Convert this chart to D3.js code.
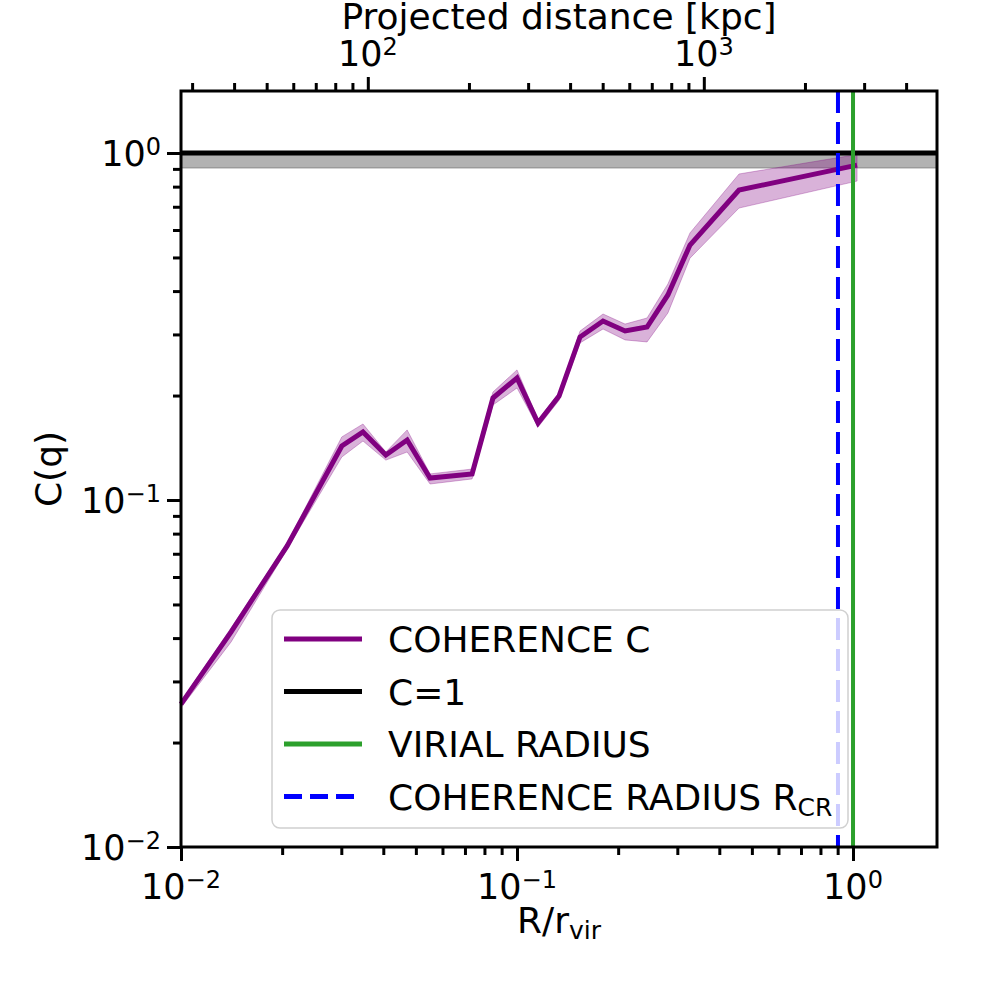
<!DOCTYPE html>
<html>
<head>
<meta charset="utf-8">
<script src="https://cdn.jsdelivr.net/npm/d3@7/dist/d3.min.js"></script>
<style>
  body { margin: 0; background: #fff; }
  text { font-family: "DejaVu Sans", sans-serif; fill: #000; }
</style>
</head>
<body>
<svg width="1008" height="1008"></svg>
<script>
// R / r_vir of each measured bin
const rRatio = [0.0100, 0.0141, 0.0207, 0.0301, 0.0348, 0.0407, 0.0471, 0.0551, 0.0735, 0.0848,
  0.1000, 0.1155, 0.1334, 0.1540, 0.1803, 0.2097, 0.2438, 0.2812, 0.3272, 0.4578, 1.028];
// coherence C(q) and its band
const coherence = [0.0258, 0.0417, 0.0737, 0.1431, 0.1570, 0.1348, 0.1489, 0.1157, 0.1189, 0.1968,
  0.2247, 0.1667, 0.1994, 0.2949, 0.3280, 0.3069, 0.3151, 0.3898, 0.5430, 0.7820, 0.9230];
const cUpper = [0.0263, 0.0428, 0.0752, 0.1520, 0.1656, 0.1375, 0.1592, 0.1189, 0.1228, 0.2047,
  0.2371, 0.1705, 0.2035, 0.3068, 0.3436, 0.3214, 0.3346, 0.4193, 0.5884, 0.8700, 0.9900];
const cLower = [0.0252, 0.0390, 0.0722, 0.1330, 0.1479, 0.1303, 0.1375, 0.1112, 0.1150, 0.1878,
  0.2103, 0.1622, 0.1937, 0.2836, 0.3110, 0.2893, 0.2854, 0.3458, 0.4978, 0.6940, 0.8300];

const cOne = 1;            // C = 1 reference
const cOneBandLow = 0.905; // grey band under C = 1
const virialRadius = 1.0;  // R/r_vir
const coherenceRadius = 0.902;
const rVirKpc = 2780;      // kpc, for the top axis

const xDomain = [0.01, 1.778];
const yDomain = [0.01, 1.509];

const xMajor = [0.01, 0.1, 1];
const xMajorExp = ["−2", "−1", "0"];
const xMinor = [0.02, 0.03, 0.04, 0.05, 0.06, 0.07, 0.08, 0.09, 0.2, 0.3, 0.4, 0.5, 0.6, 0.7, 0.8, 0.9];
const yMajor = [0.01, 0.1, 1];
const yMajorExp = ["−2", "−1", "0"];
const yMinor = xMinor;
const kpcMajor = [100, 1000];
const kpcMajorExp = ["2", "3"];
const kpcMinor = [30, 40, 50, 60, 70, 80, 90, 200, 300, 400, 500, 600, 700, 800, 900, 2000, 3000, 4000];

const legendLabels = ["COHERENCE C", "C=1", "VIRIAL RADIUS", "COHERENCE RADIUS R"];

window.onload = () => {
  const svg = d3.select("svg");
  const margin = { top: 91, right: 71, bottom: 161, left: 181 };
  const width = +svg.attr("width");
  const height = +svg.attr("height");
  const innerWidth = width - margin.left - margin.right;
  const innerHeight = height - margin.top - margin.bottom;

  const xScale = d3.scaleLog().domain(xDomain).range([0, innerWidth]);
  const yScale = d3.scaleLog().domain(yDomain).range([innerHeight, 0]);
  const kpcScale = d3.scaleLog().domain(xDomain.map(v => v * rVirKpc)).range([0, innerWidth]);

  const g = svg.append("g").attr("transform", `translate(${margin.left},${margin.top})`);

  const data = rRatio.map((r, i) => ({ r, c: coherence[i], lo: cLower[i], hi: cUpper[i] }));

  // grey band + C=1 line
  g.append("rect")
    .attr("x", 0).attr("width", innerWidth)
    .attr("y", yScale(cOne)).attr("height", yScale(cOneBandLow) - yScale(cOne))
    .attr("fill", "#000").attr("fill-opacity", 0.3)
    .attr("stroke", "#000").attr("stroke-opacity", 0.3).attr("stroke-width", 1);

  // purple band
  const area = d3.area()
    .x(d => xScale(d.r)).y0(d => yScale(d.lo)).y1(d => yScale(d.hi));
  g.append("path").datum(data)
    .attr("d", area)
    .attr("fill", "purple").attr("fill-opacity", 0.3)
    .attr("stroke", "purple").attr("stroke-opacity", 0.3).attr("stroke-width", 1);

  const line = d3.line().x(d => xScale(d.r)).y(d => yScale(d.c));
  g.append("path").datum(data)
    .attr("d", line)
    .attr("fill", "none").attr("stroke", "purple").attr("stroke-width", 5)
    .attr("stroke-linejoin", "miter");

  g.append("line")
    .attr("x1", 0).attr("x2", innerWidth)
    .attr("y1", yScale(cOne)).attr("y2", yScale(cOne))
    .attr("stroke", "#000").attr("stroke-width", 5);

  g.append("line")
    .attr("x1", xScale(virialRadius)).attr("x2", xScale(virialRadius))
    .attr("y1", 0).attr("y2", innerHeight)
    .attr("stroke", "#2ca02c").attr("stroke-width", 4);

  g.append("line")
    .attr("x1", xScale(coherenceRadius)).attr("x2", xScale(coherenceRadius))
    .attr("y1", 0).attr("y2", innerHeight)
    .attr("stroke", "blue").attr("stroke-width", 4).attr("stroke-dasharray", "22,9");

  // ticks
  const tickStyle = (sel) => {
    sel.select(".domain").remove();
    sel.selectAll(".tick line").attr("stroke", "#000").attr("stroke-width", 3);
    sel.selectAll(".tick text").remove();
  };
  g.append("g").attr("transform", `translate(0,${innerHeight})`)
    .call(d3.axisBottom(xScale).tickValues(xMajor).tickSize(14)).call(tickStyle);
  g.append("g").attr("transform", `translate(0,${innerHeight})`)
    .call(d3.axisBottom(xScale).tickValues(xMinor).tickSize(8)).call(tickStyle);
  g.append("g")
    .call(d3.axisLeft(yScale).tickValues(yMajor).tickSize(14)).call(tickStyle);
  g.append("g")
    .call(d3.axisLeft(yScale).tickValues(yMinor).tickSize(8)).call(tickStyle);
  g.append("g")
    .call(d3.axisTop(kpcScale).tickValues(kpcMajor).tickSize(14)).call(tickStyle);
  g.append("g")
    .call(d3.axisTop(kpcScale).tickValues(kpcMinor).tickSize(8)).call(tickStyle);

  // spines
  g.append("rect")
    .attr("width", innerWidth).attr("height", innerHeight)
    .attr("fill", "none").attr("stroke", "#000").attr("stroke-width", 3);

  // tick labels with exponents
  const powerLabel = (sel, exp, anchor) => {
    const t = sel.attr("text-anchor", anchor).style("font-size", "35px");
    t.append("tspan").text("10");
    t.append("tspan").attr("dy", "-0.45em").style("font-size", "24px").text(exp);
  };
  xMajor.forEach((v, i) => {
    g.append("text").attr("x", xScale(v)).attr("y", innerHeight + 52)
      .call(powerLabel, xMajorExp[i], "middle");
  });
  kpcMajor.forEach((v, i) => {
    g.append("text").attr("x", kpcScale(v)).attr("y", -25)
      .call(powerLabel, kpcMajorExp[i], "middle");
  });
  yMajor.forEach((v, i) => {
    g.append("text").attr("x", -20).attr("y", yScale(v) + 13)
      .call(powerLabel, yMajorExp[i], "end");
  });

  // axis labels
  const xl = g.append("text").attr("x", innerWidth / 2).attr("y", innerHeight + 86)
    .attr("text-anchor", "middle").style("font-size", "36px");
  xl.append("tspan").text("R/r");
  xl.append("tspan").attr("dy", "0.25em").style("font-size", "25px").text("vir");

  g.append("text").attr("x", innerWidth / 2).attr("y", -62)
    .attr("text-anchor", "middle").style("font-size", "36px")
    .text("Projected distance [kpc]");

  g.append("text")
    .attr("transform", `translate(-120,${innerHeight / 2}) rotate(-90)`)
    .attr("text-anchor", "middle").style("font-size", "36px")
    .text("C(q)");

  // legend
  const legend = g.append("g").attr("transform", `translate(${272 - margin.left},${610 - margin.top})`);
  legend.append("rect")
    .attr("width", 576).attr("height", 218).attr("rx", 8)
    .attr("fill", "#fff").attr("fill-opacity", 0.8)
    .attr("stroke", "#d0d0d0").attr("stroke-width", 1.5);
  const legendStyles = [
    { color: "purple", dash: null },
    { color: "#000", dash: null },
    { color: "#2ca02c", dash: null },
    { color: "blue", dash: "18,8" }
  ];
  legendLabels.forEach((lab, i) => {
    const y = 29 + i * 52.5;
    legend.append("line")
      .attr("x1", 12).attr("x2", 90).attr("y1", y).attr("y2", y)
      .attr("stroke", legendStyles[i].color).attr("stroke-width", 5)
      .attr("stroke-dasharray", legendStyles[i].dash);
    const t = legend.append("text").attr("x", 116).attr("y", y + 13).style("font-size", "36px");
    t.append("tspan").text(lab);
    if (i === 3) {
      t.append("tspan").attr("dy", "0.25em").style("font-size", "25px").text("CR");
    }
  });
};
</script>
</body>
</html>
